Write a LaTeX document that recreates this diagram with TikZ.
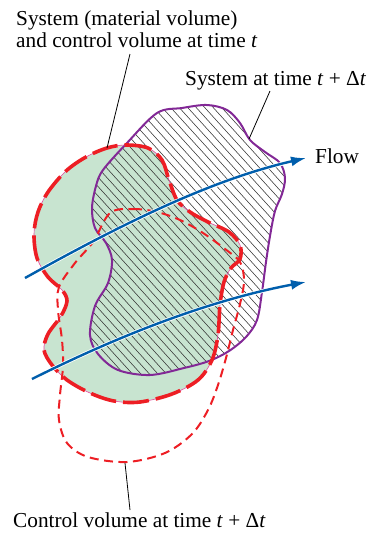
\documentclass[tikz,border=0pt]{standalone}
\usepackage{fontspec}
\setmainfont{Liberation Serif}
\usetikzlibrary{arrows.meta}
\definecolor{cvgreen}{RGB}{200,228,208}
\definecolor{cvred}{RGB}{237,30,36}
\definecolor{cvmag}{RGB}{232,70,160}
\definecolor{syspurple}{RGB}{130,40,150}
\definecolor{flowblue}{RGB}{0,94,172}
\definecolor{hatchgray}{RGB}{50,50,50}

\newcommand\greenpath{plot[smooth cycle,tension=0.55] coordinates{
 (107,148) (126,145) (148,148) (162,160) (169,180) (177,200) (190,212) (208,222)
 (229,232) (240,245) (240,259) (231,268) (224,282) (220,305) (218,335) (212,360)
 (198,380) (172,394) (140,402) (114,401) (90,393) (67,380) (52,365) (44,350)
 (48,334) (61,316) (67,301) (62,290) (48,277) (37,258) (34,234) (38,212)
 (48,192) (66,171) (86,157)}}
\newcommand\purplepath{plot[smooth cycle,tension=0.55] coordinates{
 (103,170) (127,143) (157,113) (182,108) (207,105) (227,110) (240,123) (250,140)
 (265,152) (280,163) (285,178) (282,194) (275,211) (270,236) (266,262) (262,292)
 (257,320) (246,337) (229,351) (209,361) (184,368) (150,375) (118,370) (98,354)
 (90,335) (95,306) (108,283) (112,260) (106,243) (95,228) (92,208) (96,186)}}
\newcommand\dashedpath{plot[smooth cycle,tension=0.55] coordinates{
 (110,213) (133,209) (157,212) (180,220) (203,233) (225,249) (240,262) (244,281)
 (240,304) (233,330) (226,358) (218,385) (208,410) (192,434) (165,453) (127,462)
 (88,457) (67,443) (59,420) (60,395) (63,366) (62,340) (58,310) (59,287)
 (75,263) (93,242)}}

\begin{document}
\begin{tikzpicture}[x=1pt,y=-1pt,
  lbl/.style={font=\fontsize{21.3}{22}\selectfont, inner sep=0pt, anchor=base west},
  leader/.style={draw=black, line width=0.8pt},
  hatch/.style={draw=hatchgray, line width=0.55pt},
  sysline/.style={draw=syspurple, line width=2pt},
  cvthin/.style={draw=cvmag, line width=0.6pt},
  cvthick/.style={draw=cvred, line width=3.6pt, dash pattern=on 26pt off 7pt},
  cvnext/.style={draw=cvred, line width=2pt, dash pattern=on 9pt off 5.5pt},
  flowarrow/.style={draw=flowblue, line width=2.4pt, -{Latex[length=15pt,width=10pt]},
    preaction={draw=white, line width=4pt, -, shorten >=9pt}}]
\useasboundingbox (0,0) rectangle (385,533);

% system / control volume at time t
\fill[cvgreen] \greenpath;
% hatched system at time t + dt
\begin{scope}
  \clip \purplepath;
  \foreach \k in {-32,...,36} \draw[hatch] (\k*8.5,60) -- ++(330,363);
\end{scope}
\draw[sysline] \purplepath;
\draw[cvthin] \greenpath;
\draw[cvthick] \greenpath;
% control volume at time t + dt
\draw[cvnext] \dashedpath;

% flow arrows
\coordinate (f1s) at (25,278);
\coordinate (f1e) at (306,158);
\coordinate (f2s) at (32,379);
\coordinate (f2e) at (306,282);
\draw[flowarrow] (f1s) .. controls (120,225) and (210,180) .. (f1e);
\draw[flowarrow] (f2s) .. controls (120,335) and (210,300) .. (f2e);

% labels
\node[lbl] (labA1) at (16,25) {System (material volume)};
\node[lbl] (labA2) at (16,47) {and control volume at time \textit{t}};
\node[lbl] (labB) at (185,85) {System at time \textit{t} + Δ\textit{t}};
\node[lbl] (labF) at (315,163) {Flow};
\node[lbl] (labC) at (13,527) {Control volume at time \textit{t} + Δ\textit{t}};

% leaders
\coordinate (a1) at (130,54);
\coordinate (a2) at (107,148);
\coordinate (b1) at (270,91);
\coordinate (b2) at (249,139);
\coordinate (c1) at (125,463);
\coordinate (c2) at (130,510);
\draw[leader] (a1) -- (a2);
\draw[leader] (b1) -- (b2);
\draw[leader] (c1) -- (c2);
\end{tikzpicture}
\end{document}
